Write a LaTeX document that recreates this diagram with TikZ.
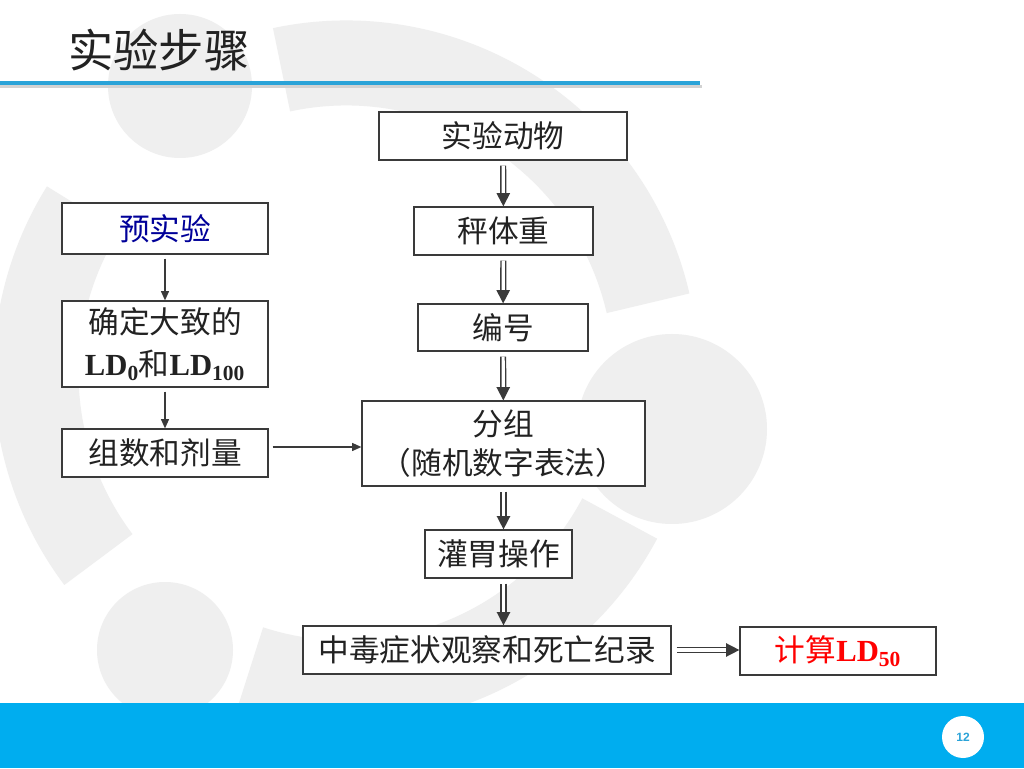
\documentclass[tikz,border=0pt]{standalone}
\usepackage{fontspec}
\setmainfont{Noto Sans CJK SC}
\newfontfamily\tnr{Liberation Serif}
\newfontfamily\lsans{Liberation Sans}
\usetikzlibrary{arrows.meta,calc}
\definecolor{lc}{HTML}{3A3A3A}
\definecolor{txt}{HTML}{222222}
\definecolor{navyc}{HTML}{000099}
\definecolor{barblue}{HTML}{00ADEF}
\definecolor{lineblue}{HTML}{2AA3D8}
\definecolor{wm}{HTML}{EFEFEF}
\begin{document}
\begin{tikzpicture}[x=0.75pt,y=0.75pt,
  box/.style={draw=lc, line width=0.9pt, fill=white, inner sep=0pt, text=txt,
    font=\fontsize{23}{29}\selectfont, align=center},
  dbl/.style={draw=lc, double=white, double distance=2.4pt, line width=1.1pt,
    -{Triangle[length=10pt,width=10pt]}, shorten <=3.75pt},
  sgl/.style={draw=lc, line width=1pt, -{Triangle[length=7pt,width=6pt]}, shorten <=3pt},
  wmarc/.style={draw=wm, line width=63.75pt}]
\useasboundingbox (0,0) rectangle (1024,768);
\clip (0,0) rectangle (1024,768);
\fill[white] (0,0) rectangle (1024,768);
% watermark
\draw[wmarc] (346,395) ++(13:310) arc[start angle=13, end angle=102, radius=310];
\draw[wmarc] (346,395) ++(148:310) arc[start angle=148, end angle=217, radius=310];
\draw[wmarc] (346,395) ++(252:310) arc[start angle=252, end angle=332, radius=310];
\fill[wm] (180,682) circle[radius=72];
\fill[wm] (672,339) circle[radius=95];
\fill[wm] (165,118) circle[radius=68];
% title
\node[anchor=west, inner sep=0pt, font=\fontsize{34}{34}\selectfont, text=txt] (title) at (68,718) {实验步骤};
\draw[gray!35, line width=2pt] (0,681.5) -- (702,681.5);
\draw[lineblue, line width=2.4pt] (0,685) -- (700,685);
% boxes right column
\node[box, minimum width=186pt, minimum height=36pt] (anim) at (503,632) {实验动物};
\node[box, minimum width=134.25pt, minimum height=36pt] (weigh) at (503.5,537) {秤体重};
\node[box, minimum width=127.5pt, minimum height=35.25pt] (num) at (503,440.5) {编号};
\node[box, minimum width=212.25pt, minimum height=63.75pt] (group) at (503.5,324.5) {分组\\（随机数字表法）};
\node[box, minimum width=110.25pt, minimum height=36pt] (gav) at (498.5,214) {灌胃操作};
\node[box, minimum width=276pt, minimum height=36pt] (obs) at (487,118) {中毒症状观察和死亡纪录};
\node[box, minimum width=147pt, minimum height=36pt, text=red] (calc) at (838,117) {计算{\tnr\bfseries LD\textsubscript{50}}};
% left column
\node[box, minimum width=154.5pt, minimum height=38.25pt, text=navyc] (pre) at (165,539.5) {预实验};
\node[box, minimum width=154.5pt, minimum height=64.5pt, font=\fontsize{23}{31}\selectfont] (ld) at (165,424) {确定大致的\\{\tnr\bfseries LD\textsubscript{0}}和{\tnr\bfseries LD\textsubscript{100}}};
\node[box, minimum width=154.5pt, minimum height=36pt] (dose) at (165,315) {组数和剂量};
% connectors
\draw[dbl] (anim) -- (weigh);
\draw[dbl] (weigh) -- (num);
\draw[dbl] (num) -- (group);
\draw[dbl] (group.south) -- (group.south |- gav.north);
\draw[dbl] (gav.south -| group.south) -- (group.south |- obs.north);
\draw[dbl] (obs.east) -- (obs.east -| calc.west);
\draw[sgl] (pre) -- (ld);
\draw[sgl] (ld) -- (dose);
\draw[sgl] ([yshift=4.5pt]dose.east) -- ([yshift=4.5pt]dose.east -| group.west);
% footer
\fill[barblue] (0,0) rectangle (1024,65);
\fill[white] (963,31) circle[radius=21];
\node[inner sep=0pt, font=\lsans\bfseries\fontsize{9}{9}\selectfont, text=lineblue] (pg) at (963,31) {12};
\end{tikzpicture}
\end{document}
